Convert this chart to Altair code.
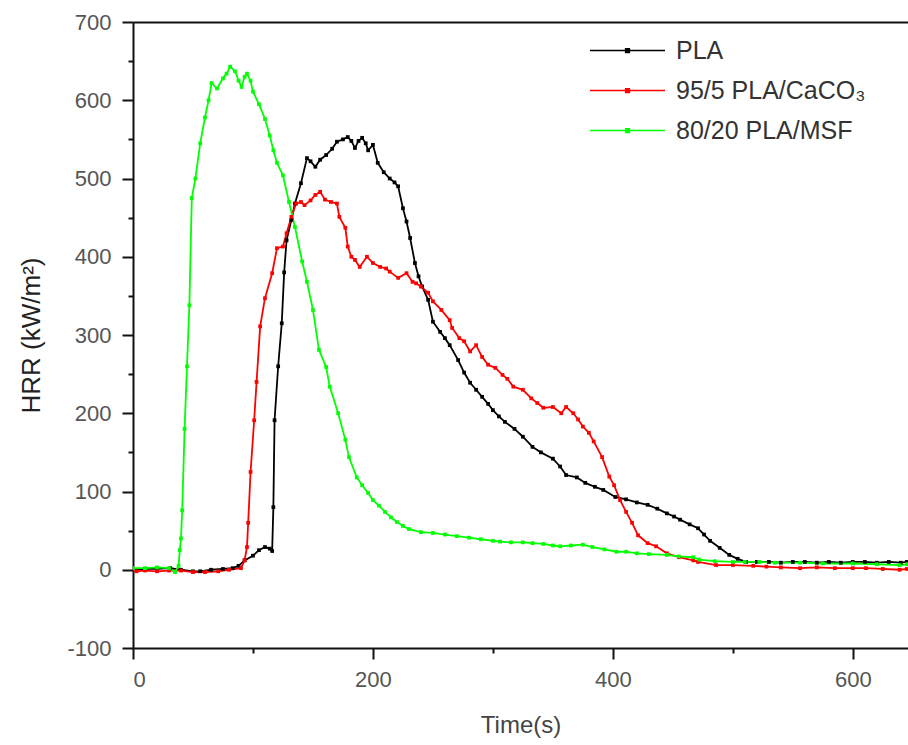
import altair as alt
import pandas as pd

series_names = ["PLA", "95/5 PLA/CaCO₃", "80/20 PLA/MSF"]
series_colors = ["#000000", "#ff0000", "#00ff00"]

pla_t = [0, 10, 20, 31, 40, 50, 56, 65, 75, 83, 88, 93, 100, 105, 110, 114, 116, 117, 118, 121, 124, 126, 128, 132, 135, 140, 145, 148, 152, 156, 161, 166, 170, 175, 179, 182, 185, 188, 191, 194, 196, 200, 204, 209, 214, 218, 221, 225, 228, 231, 235, 238, 241, 246, 250, 256, 260, 264, 271, 276, 281, 286, 291, 296, 300, 305, 310, 318, 325, 333, 340, 350, 356, 361, 370, 377, 385, 392, 402, 411, 420, 429, 437, 445, 451, 456, 464, 471, 476, 481, 489, 497, 504, 511, 520, 530, 540, 550, 560, 570, 580, 590, 600, 610, 620, 630, 640, 645]
pla_v = [0, 1, 1, 2, 0, -2, -2, 0, 1, 2, 5, 12, 18, 25, 29, 27, 24, 80, 191, 260, 315, 380, 421, 447, 468, 494, 526, 522, 515, 524, 530, 538, 547, 550, 553, 548, 539, 548, 552, 545, 536, 543, 520, 508, 500, 495, 490, 462, 445, 424, 392, 375, 362, 345, 317, 304, 296, 287, 268, 252, 239, 230, 221, 212, 204, 196, 189, 180, 170, 157, 150, 142, 132, 121, 118, 111, 106, 102, 93, 90, 86, 83, 78, 72, 68, 64, 58, 53, 45, 37, 28, 19, 14, 10, 10, 10, 9, 10, 10, 9, 10, 9, 10, 10, 9, 10, 9, 10]

caco3_t = [0, 3, 10, 20, 30, 40, 50, 60, 71, 80, 90, 93, 95, 96, 98, 101, 103, 106, 110, 116, 120, 125, 128, 132, 136, 140, 143, 148, 152, 156, 160, 165, 170, 172, 177, 179, 182, 185, 189, 195, 200, 206, 211, 214, 221, 228, 233, 236, 240, 246, 250, 257, 264, 266, 272, 276, 281, 286, 291, 296, 302, 308, 312, 317, 325, 332, 337, 342, 350, 357, 361, 367, 371, 375, 380, 384, 391, 397, 401, 406, 411, 416, 421, 429, 436, 445, 455, 467, 471, 486, 500, 517, 528, 540, 556, 570, 585, 600, 611, 625, 639, 645]
caco3_v = [0, -2, -1, -2, -1, -1, -3, -3, -2, 0, 2, 12, 29, 60, 125, 191, 240, 311, 347, 379, 411, 413, 430, 451, 468, 470, 466, 472, 479, 483, 473, 470, 468, 451, 437, 413, 400, 396, 387, 400, 392, 387, 385, 381, 373, 379, 368, 366, 362, 354, 343, 332, 319, 309, 296, 292, 279, 287, 272, 262, 258, 249, 244, 234, 230, 219, 213, 207, 208, 200, 208, 200, 192, 183, 175, 164, 144, 119, 108, 89, 74, 60, 44, 34, 30, 21, 16, 12, 10, 6, 6, 5, 4, 3, 2, 3, 2, 2, 2, 1, 0, 1]

msf_t = [0, 10, 20, 30, 35, 38, 39, 40, 41, 43, 45, 47, 49, 52, 56, 60, 63, 65.5, 70, 75, 78, 81, 85, 88, 90.5, 93, 95, 98, 100, 105, 110, 114, 117, 120, 125, 130, 135, 141, 145, 150, 155, 161, 164, 171, 177, 180, 186.5, 191, 196, 200, 205, 210, 215, 220, 225, 230, 240, 250, 260, 270, 280, 290, 300, 306, 315, 325, 333, 342, 350, 356, 365, 375, 383, 393, 403, 411, 420, 430, 445, 455, 467, 472, 485, 500, 510, 522, 535, 556, 575, 600, 620, 639, 645]
msf_v = [2, 2, 3, 2, -3, 5, 25, 40, 76, 180, 260, 338, 475, 500, 545, 578, 600, 622, 615, 628, 634, 643, 637, 625, 617, 630, 634, 625, 611, 595, 576, 555, 536, 520, 504, 470, 438, 394, 368, 332, 281, 259, 234, 200, 166, 144, 118, 108, 98, 89, 82, 74, 67, 61, 56, 52, 48, 47, 45, 43, 41, 39, 37, 36, 35, 35, 34, 33, 31, 30, 31, 32, 29, 26, 23, 23, 21, 20, 19, 17, 16, 13, 11, 10, 10, 10, 9, 9, 8, 8, 7, 6, 7]

y_major = [-100, 0, 100, 200, 300, 400, 500, 600, 700]
y_minor = [-50, 50, 150, 250, 350, 450, 550, 650]
x_major = [0, 200, 400, 600]
x_minor = [100, 300, 500]

rows = []
for name, ts, vs in zip(series_names, [pla_t, caco3_t, msf_t], [pla_v, caco3_v, msf_v]):
    for t, v in zip(ts, vs):
        rows.append({"time": t, "hrr": v, "series": name})
df = pd.DataFrame(rows)

FONT = "Liberation Sans"
x_scale = alt.Scale(domain=[0, 646], nice=False, zero=False)
y_scale = alt.Scale(domain=[-100, 700], nice=False, zero=False)
color_scale = alt.Scale(domain=series_names, range=series_colors)

base = alt.Chart(df)

x_major_axis = alt.Axis(values=x_major, orient="bottom", tickSize=11, tickWidth=2, tickColor="#111",
                        domainColor="#111", domainWidth=2, labelFontSize=22, labelFont=FONT,
                        labelColor="#555", labelPadding=10, grid=False, title="Time(s)",
                        titleFont=FONT, titleFontSize=24, titleFontWeight="normal",
                        titleColor="#444", titlePadding=23)
y_major_axis = alt.Axis(values=y_major, orient="left", tickSize=11, tickWidth=2, tickColor="#111",
                        domainColor="#111", domainWidth=2, labelFontSize=22, labelFont=FONT,
                        labelColor="#555", labelPadding=11, grid=False, labelExpr="'' + datum.value",
                        title="HRR (kW/m²)", titleFont=FONT, titleFontSize=26,
                        titleFontWeight="normal", titleColor="#222", titlePadding=22)

lines = base.mark_line(strokeWidth=1.8, clip=True).encode(
    x=alt.X("time:Q", scale=x_scale, axis=x_major_axis),
    y=alt.Y("hrr:Q", scale=y_scale, axis=y_major_axis),
    color=alt.Color("series:N", scale=color_scale, legend=None),
)

legend_path = "M-5,-0.1H5V0.1H-5Z M-0.35,-0.35H0.35V0.35H-0.35Z"
points = base.mark_square(size=14, opacity=1, filled=True, clip=True).encode(
    x=alt.X("time:Q", scale=x_scale, axis=None),
    y=alt.Y("hrr:Q", scale=y_scale, axis=None),
    color=alt.Color("series:N", scale=color_scale,
                    legend=alt.Legend(title=None, orient="none", legendX=482, legendY=16,
                                      symbolType=legend_path, symbolSize=225,
                                      symbolStrokeWidth=0, symbolOpacity=1,
                                      labelFont=FONT, labelFontSize=25, labelColor="#333",
                                      labelLimit=400, labelOffset=36, rowPadding=14, padding=0)),
)

minor = base.mark_point(opacity=0).encode(
    x=alt.X("time:Q", scale=x_scale,
            axis=alt.Axis(values=x_minor, orient="bottom", tickSize=5, tickWidth=2,
                          tickColor="#111", domain=False, labels=False, title=None, grid=False)),
    y=alt.Y("hrr:Q", scale=y_scale,
            axis=alt.Axis(values=y_minor, orient="left", tickSize=5, tickWidth=2,
                          tickColor="#111", domain=False, labels=False, title=None, grid=False)),
)

top = base.mark_point(opacity=0).encode(
    x=alt.X("time:Q", scale=x_scale,
            axis=alt.Axis(orient="top", domain=True, domainColor="#111", domainWidth=2,
                          ticks=False, labels=False, title=None, grid=False)),
    y=alt.Y("hrr:Q", scale=y_scale, axis=None),
)

chart = alt.layer(lines, points, minor, top).resolve_axis(
    x="independent", y="independent"
).resolve_legend(color="independent").properties(
    width=775, height=626,
    autosize=alt.AutoSizeParams(type="none"),
    padding={"left": 133, "top": 22, "right": 0, "bottom": 97},
).configure_view(stroke=None)

chart.save("out.html", embed_options={"renderer": "svg", "actions": False})
